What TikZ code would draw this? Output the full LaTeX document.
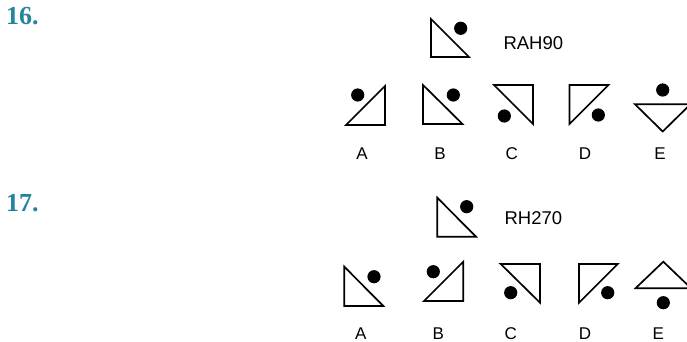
\documentclass[tikz,border=0pt]{standalone}
\usepackage{fontspec}
\setmainfont{Liberation Sans}
\newfontfamily\numfont{Liberation Serif}
\usepackage{tikz}
\usetikzlibrary{positioning}
\definecolor{qteal}{RGB}{36,132,160}

\begin{document}
\begin{tikzpicture}[x=1pt,y=-1pt,
    tri/.style={draw=black,line width=1.7pt,line join=miter},
    dot/.style={fill=black},
    opt/.style={font=\fontsize{17}{17}\selectfont,anchor=center},
    code/.style={font=\fontsize{18.5}{18.5}\selectfont,anchor=west},
    qnum/.style={font=\numfont\bfseries\fontsize{26}{26}\selectfont,text=qteal,anchor=north west,inner sep=0pt}]
        \def\r{6.6}
        \useasboundingbox (0,0) rectangle (687,342);
        % Question numbers
        \node[qnum] (q16) at (6,7) {16.};
        \node[qnum] (q17) at (6,194) {17.};
        % Question 16: the figure and its code
        \draw[tri] (431,19) -- (431,57) -- (469,57) -- cycle;
        \fill[dot] (460.7,28.3) circle (\r);
        \node[code] (c16) at (500,43.3) {RAH90};
        % Question 16: the answers
        \draw[tri] (346,125) -- (385,125) -- (385,86) -- cycle;
        \fill[dot] (357.7,95) circle (\r);
        \draw[tri] (423,85) -- (423,124) -- (462.5,124) -- cycle;
        \fill[dot] (453.3,95) circle (\r);
        \draw[tri] (494,85) -- (533,85) -- (533,124) -- cycle;
        \fill[dot] (504.3,116) circle (\r);
        \draw[tri] (569.5,85) -- (608.5,85) -- (569.5,124) -- cycle;
        \fill[dot] (598.3,115) circle (\r);
        \draw[tri] (635,104.3) -- (690.4,104.3) -- (662.7,131.5) -- cycle;
        \fill[dot] (662.7,90) circle (\r);
        \node[opt] (a16) at (362,153.5) {A};
        \node[opt] (b16) at (440,153.5) {B};
        \node[opt] (cc16) at (511.7,153.5) {C};
        \node[opt] (d16) at (585,153.5) {D};
        \node[opt] (e16) at (660,153.5) {E};
        % Question 17: the figure and its code
        \draw[tri] (437.3,197.7) -- (437.3,236.7) -- (476,236.7) -- cycle;
        \fill[dot] (466.7,206.7) circle (\r);
        \node[code] (c17) at (501,218.3) {RH270};
        % Question 17: the answers
        \draw[tri] (344.3,266.7) -- (344.3,306) -- (383.3,306) -- cycle;
        \fill[dot] (374,276.7) circle (\r);
        \draw[tri] (424,301) -- (463.3,301) -- (463.3,261.7) -- cycle;
        \fill[dot] (433.3,271.7) circle (\r);
        \draw[tri] (500.7,264) -- (540,264) -- (540,302.7) -- cycle;
        \fill[dot] (510.7,292.7) circle (\r);
        \draw[tri] (579,264) -- (617.7,264) -- (579,302.7) -- cycle;
        \fill[dot] (607.7,292.7) circle (\r);
        \draw[tri] (635.5,288.3) -- (691.1,288.3) -- (663.3,261.7) -- cycle;
        \fill[dot] (663.3,302.7) circle (\r);
        \node[opt] (a17) at (360.7,334) {A};
        \node[opt] (b17) at (438.3,334) {B};
        \node[opt] (cc17) at (510.7,334) {C};
        \node[opt] (d17) at (585,334) {D};
        \node[opt] (e17) at (658.3,334) {E};
      \end{tikzpicture}
\end{document}
